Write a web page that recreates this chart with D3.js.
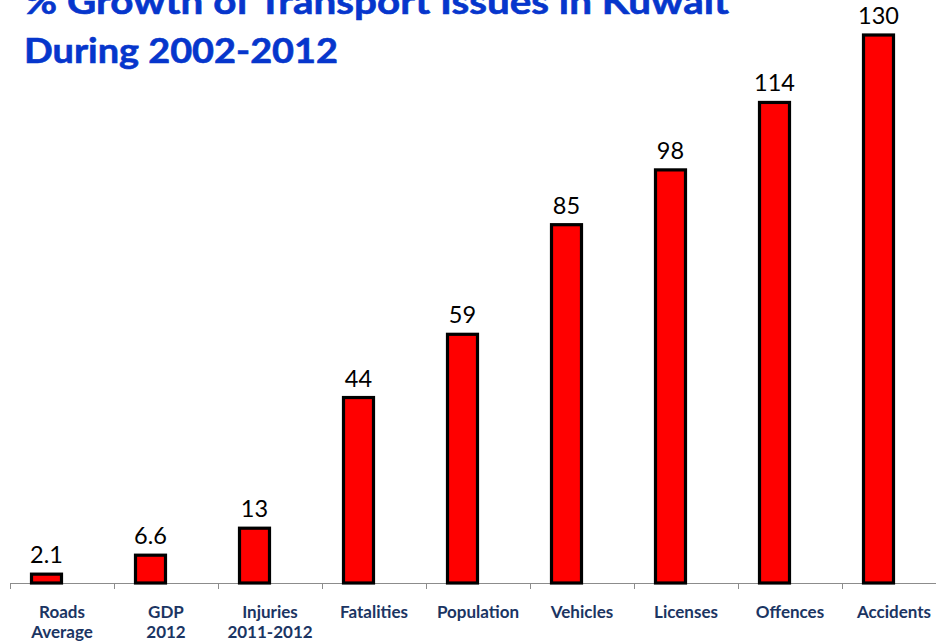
<!DOCTYPE html>
<html>
<head>
<meta charset="utf-8">
<script src="https://cdn.jsdelivr.net/npm/d3@7"></script>
<style>
  body { margin: 0; background: #fff; }
  svg { display: block; }
</style>
</head>
<body>
<svg id="chart"></svg>
<script>
const width = 936;
const height = 643;

const categories = [["Roads", "Average"], ["GDP", "2012"], ["Injuries", "2011-2012"],
  ["Fatalities"], ["Population"], ["Vehicles"], ["Licenses"], ["Offences"], ["Accidents"]];
const values = [2.1, 6.6, 13, 44, 59, 85, 98, 114, 130];
const valueLabels = ["2.1", "6.6", "13", "44", "59", "85", "98", "114", "130"];
const titleLines = ["% Growth of Transport Issues in Kuwait", "During 2002-2012"];

const svg = d3.select("#chart")
    .attr("width", width)
    .attr("height", height);

const x = d3.scaleBand()
    .domain(d3.range(values.length))
    .range([10, 946])
    .padding(0);

const y = d3.scaleLinear()
    .domain([0, 130])
    .range([583, 35]);

const barW = 30;
const barShift = -15.5;
const font = "Lato, 'Open Sans', sans-serif";

// axis line + ticks at band edges
svg.append("line")
    .attr("x1", 10).attr("x2", width)
    .attr("y1", y(0) + 0.5).attr("y2", y(0) + 0.5)
    .attr("stroke", "#8c8c8c").attr("stroke-width", 1);

svg.selectAll(".tick")
    .data(d3.range(values.length + 1))
  .enter().append("line")
    .attr("x1", i => Math.round(10 + i * x.bandwidth()) + 0.5)
    .attr("x2", i => Math.round(10 + i * x.bandwidth()) + 0.5)
    .attr("y1", y(0))
    .attr("y2", y(0) + 6)
    .attr("stroke", "#8c8c8c");

// bars
svg.selectAll(".bar")
    .data(values)
  .enter().append("rect")
    .attr("class", "bar")
    .attr("x", (d, i) => x(i) + x.bandwidth() / 2 + barShift - barW / 2)
    .attr("y", d => y(d))
    .attr("width", barW)
    .attr("height", d => y(0) - y(d))
    .attr("fill", "#ff0000")
    .attr("stroke", "#000")
    .attr("stroke-width", 3.2);

// value labels
svg.selectAll(".val")
    .data(values)
  .enter().append("text")
    .attr("x", (d, i) => x(i) + x.bandwidth() / 2 + barShift)
    .attr("y", d => y(d) - 11)
    .attr("text-anchor", "middle")
    .attr("font-family", font)
    .attr("font-size", 23.5)
    .attr("fill", "#000")
    .text((d, i) => valueLabels[i]);

// category labels
const cat = svg.selectAll(".cat")
    .data(categories)
  .enter().append("text")
    .attr("text-anchor", "middle")
    .attr("font-family", font)
    .attr("font-weight", "bold")
    .attr("font-size", 17)
    .attr("fill", "#1b3563");

cat.selectAll("tspan")
    .data((d, i) => d.map(t => ({ t, i })))
  .enter().append("tspan")
    .attr("x", d => x(d.i) + x.bandwidth() / 2)
    .attr("y", (d, j) => 618 + j * 20)
    .text(d => d.t);

// title
const titleWidths = [705, 314];
svg.selectAll(".title")
    .data(titleLines)
  .enter().append("text")
    .attr("x", 24)
    .attr("y", (d, i) => 14 + i * 49)
    .attr("font-family", font)
    .attr("font-weight", "bold")
    .attr("font-size", 35)
    .attr("fill", "#0636cc")
    .attr("stroke", "#0636cc")
    .attr("stroke-width", 0.6)
    .attr("textLength", (d, i) => titleWidths[i])
    .attr("lengthAdjust", "spacingAndGlyphs")
    .text(d => d);
</script>
</body>
</html>
